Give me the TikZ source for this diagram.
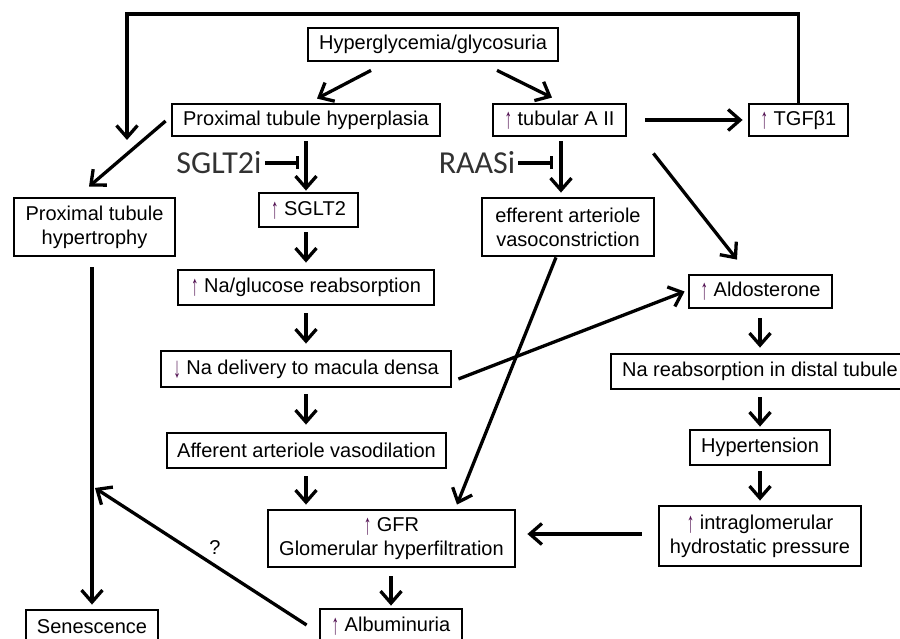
\documentclass[tikz,border=0pt]{standalone}
\usepackage{fontspec}
\usepackage{graphicx}
\setmainfont{Liberation Sans}
\newfontfamily\calfnt{Carlito}
\usetikzlibrary{arrows.meta,calc}
\definecolor{uparr}{RGB}{80,15,80}
\definecolor{inhtxt}{RGB}{50,50,50}
\newcommand{\myup}{\raisebox{-3pt}{\color{uparr}\scalebox{0.75}[1.45]{↑}}}
\newcommand{\mydown}{\raisebox{-3pt}{\color{uparr}\scalebox{0.75}[1.45]{↓}}}
\begin{document}
\begin{tikzpicture}[x=1pt,y=-1pt,
  box/.style={draw, line width=2.8pt, inner sep=0pt, align=center,
    font=\fontsize{20}{24}\selectfont},
  arr/.style={line width=3.3pt, -{Straight Barb[length=12pt,width=21pt]}},
  plain/.style={line width=3.3pt},
  inh/.style={line width=3.3pt, -{Bar[width=13pt]}},
  lbl/.style={font=\calfnt\fontsize{32}{36}\selectfont, text=inhtxt, inner sep=0pt}]
\useasboundingbox (0,0) rectangle (900,639);
% boxes
\node[box, minimum width=250pt, minimum height=33pt] (hyper) at (433,44.5) {Hyperglycemia/glycosuria};
\node[box, minimum width=268pt, minimum height=32pt] (hyperpl) at (306,120) {Proximal tubule hyperplasia};
\node[box, minimum width=133pt, minimum height=32pt] (tubA) at (559.5,120) {\myup\ tubular A II};
\node[box, minimum width=99pt, minimum height=32pt] (tgf) at (798.5,120) {\myup\ TGFβ1};
\node[box, minimum width=161pt, minimum height=58pt] (hypertr) at (94.5,227) {Proximal tubule\\hypertrophy};
\node[box, minimum width=99pt, minimum height=34pt] (sglt2) at (308.5,210) {\myup\ SGLT2};
\node[box, minimum width=172pt, minimum height=58pt] (eff) at (568,227) {efferent arteriole\\vasoconstriction};
\node[box, minimum width=256pt, minimum height=35pt] (naglu) at (306,287.5) {\myup\ Na/glucose reabsorption};
\node[box, minimum width=143pt, minimum height=33pt] (aldo) at (760.5,291.5) {\myup\ Aldosterone};
\node[box, minimum width=290pt, minimum height=36pt] (nadel) at (306,369) {\mydown\ Na delivery to macula densa};
\node[box, minimum width=298pt, minimum height=35pt] (nadist) at (760,371.5) {Na reabsorption in distal tubule};
\node[box, minimum width=279pt, minimum height=35pt] (aff) at (306.5,450.5) {Afferent arteriole vasodilation};
\node[box, minimum width=140pt, minimum height=35pt] (hypt) at (760,447.5) {Hypertension};
\node[box, minimum width=247pt, minimum height=57pt] (gfr) at (391.5,538.5) {\myup\ GFR\\Glomerular hyperfiltration};
\node[box, minimum width=202pt, minimum height=60pt] (intra) at (760,536) {\myup\ intraglomerular\\hydrostatic pressure};
\node[box, minimum width=132pt, minimum height=34pt] (sen) at (92,627) {Senescence};
\node[box, minimum width=142pt, minimum height=35pt] (alb) at (391,626.5) {\myup\ Albuminuria};
% inhibitor labels
\node[lbl] (sglti) at (219,163) {SGLT2i};
\node[lbl] (raasi) at (477,163) {RAASi};
\coordinate (sglbar) at (299,163);
\coordinate (raabar) at (553,163);
\coordinate (looptop) at (127,14);
\coordinate (loopend) at (127,140);
\coordinate (qtip) at (95,488);
% connectors
\draw[arr] ([xshift=-62pt,yshift=-8pt]hyper.south) -- ([xshift=11pt,yshift=4pt]hyperpl.north);
\draw[arr] ([xshift=64pt,yshift=-8pt]hyper.south) -- ([xshift=-7.5pt,yshift=5pt]tubA.north);
\draw[arr, shorten <=18pt, shorten >=5pt] (tubA.east) -- (tgf.west);
\draw[arr] ([xshift=-5pt,yshift=-1pt]hyperpl.west) -- ([xshift=-5.5pt,yshift=10pt]hypertr.north);
\draw[arr, shorten <=4pt, shorten >=1pt] (hyperpl.south) -- (hyperpl.south |- sglt2.north);
\draw[inh] ([xshift=3pt]sglti.east) -- (sglbar);
\draw[inh] ([xshift=3pt]raasi.east) -- (raabar);
\draw[arr, shorten <=4pt, shorten >=4pt] ([xshift=1.5pt]tubA.south) -- ([xshift=1.5pt]tubA.south |- eff.north);
\draw[arr] ([xshift=26pt,yshift=-16pt]tubA.south east) -- ([xshift=-23.5pt,yshift=14pt]aldo.north);
\draw[arr, shorten <=4pt, shorten >=6pt] ([xshift=-2.5pt]sglt2.south) -- ([xshift=-2.5pt]sglt2.south |- naglu.north);
\draw[arr, shorten <=7pt, shorten >=6pt] (naglu.south) -- (naglu.south |- nadel.north);
\draw[plain, -{Straight Barb[length=12pt,width=21pt]}] ([xshift=6pt,yshift=-10pt]nadel.east) -- ([xshift=-3pt]aldo.west);
\draw[arr] ([xshift=-12pt]eff.south) -- ([xshift=65.5pt,yshift=4pt]gfr.north);
\draw[arr, shorten <=6pt, shorten >=7pt] (nadel.south) -- (nadel.south |- aff.north);
\draw[arr, shorten <=7pt, shorten >=4pt] ([xshift=-0.5pt]aff.south) -- ([xshift=-0.5pt]aff.south |- gfr.north);
\draw[arr, shorten <=9pt, shorten >=5pt] ([xshift=-0.5pt]aldo.south) -- ([xshift=-0.5pt]aldo.south |- nadist.north);
\draw[arr, shorten <=7pt, shorten >=2pt] (nadist.south) -- (nadist.south |- hypt.north);
\draw[arr, shorten <=5pt, shorten >=4pt] (hypt.south) -- (hypt.south |- intra.north);
\draw[arr, shorten <=16pt, shorten >=11pt] ([yshift=2pt]intra.west) -- ([yshift=2pt]intra.west -| gfr.east);
\draw[arr, shorten <=8pt, shorten >=2pt] ([xshift=-0.5pt]gfr.south) -- ([xshift=-0.5pt]gfr.south |- alb.north);
\draw[arr] ([xshift=-12pt,yshift=1.5pt]alb.west) -- (qtip);
\node[font=\fontsize{20}{24}\selectfont, inner sep=0pt] (qm) at (215,548) {?};
\draw[arr, shorten <=10pt, shorten >=4pt] ([xshift=-2.5pt]hypertr.south) -- ([xshift=-2.5pt]hypertr.south |- sen.north);
\draw[arr, line join=miter] (tgf.north) |- (looptop) -- (loopend);
\end{tikzpicture}
\end{document}
